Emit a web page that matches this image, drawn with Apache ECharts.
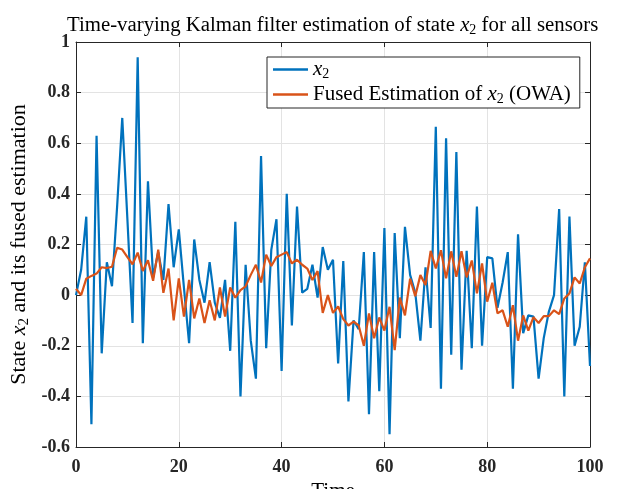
<!DOCTYPE html>
<html>
<head>
<meta charset="utf-8">
<script src="https://cdn.jsdelivr.net/npm/echarts@6/dist/echarts.min.js"></script>
<style>
	html, body { margin: 0; padding: 0; background: #fff; }
	#kfChart { width: 628px; height: 489px; }
</style>
</head>
<body>
<div id="kfChart"></div>
<script>
// time steps 0..100
var timeSteps = [];
for (var t = 0; t <= 100; t++) timeSteps.push(t);

// true state x2
var stateX2 = [
	0.00, 0.10, 0.31, -0.51, 0.63, -0.23, 0.13, 0.035, 0.35, 0.70,
	0.30, -0.11, 0.94, -0.19, 0.45, 0.07, 0.17, 0.06, 0.36, 0.11,
	0.26, 0.03, -0.19, 0.22, 0.06, -0.03, 0.13, -0.03, -0.09, 0.06,
	-0.22, 0.29, -0.40, 0.12, -0.18, -0.33, 0.55, -0.21, 0.18, 0.30,
	-0.30, 0.40, -0.12, 0.35, 0.01, 0.025, 0.12, -0.01, 0.19, 0.10,
	0.14, -0.27, 0.135, -0.42, -0.10, -0.135, 0.17, -0.47, 0.17, -0.38,
	0.265, -0.55, 0.245, -0.17, 0.27, 0.08, 0.01, -0.18, 0.11, -0.13,
	0.665, -0.37, 0.62, -0.235, 0.565, -0.295, 0.175, -0.21, 0.35, -0.20,
	0.15, 0.145, -0.05, 0.05, 0.17, -0.37, 0.24, -0.15, -0.08, -0.085,
	-0.33, -0.17, -0.065, 0.00, 0.34, -0.40, 0.31, -0.20, -0.125, 0.13,
	-0.28
];

// fused estimate (OWA)
var fusedX2 = [
	0.025, 0.00, 0.065, 0.076, 0.085, 0.11, 0.107, 0.112, 0.187, 0.18,
	0.15, 0.122, 0.168, 0.095, 0.138, 0.057, 0.18, 0.009, 0.105, -0.10,
	0.066, -0.085, 0.06, -0.092, -0.013, -0.11, -0.02, -0.10, 0.03, -0.085,
	0.03, -0.01, 0.02, 0.035, 0.08, 0.12, 0.05, 0.16, 0.115, 0.15,
	0.16, 0.17, 0.125, 0.14, 0.12, 0.105, 0.06, 0.095, -0.07, 0.00,
	-0.07, -0.045, -0.095, -0.12, -0.105, -0.12, -0.20, -0.072, -0.17, -0.088,
	-0.14, -0.046, -0.217, -0.01, -0.08, 0.065, -0.004, 0.079, 0.04, 0.175,
	0.105, 0.177, 0.066, 0.173, 0.072, 0.173, 0.07, 0.137, 0.007, 0.125,
	-0.026, 0.049, -0.072, -0.06, -0.125, -0.04, -0.18, -0.08, -0.14, -0.087,
	-0.11, -0.083, -0.083, -0.06, -0.075, -0.013, 0.007, 0.07, 0.046, 0.11,
	0.145
];

var xTicks = [0, 20, 40, 60, 80, 100];
var yTicks = [-0.6, -0.4, -0.2, 0, 0.2, 0.4, 0.6, 0.8, 1];

var serif = '"Liberation Serif", "DejaVu Serif", serif';
var axisColor = '#262626';
var gridColor = '#e3e3e3';

function mathRich(size) {
	return {
		t: { fontFamily: serif, fontSize: size, fontWeight: 'normal', color: '#000' },
		i: { fontFamily: serif, fontSize: size, fontWeight: 'normal', fontStyle: 'italic', color: '#000' },
		s: { fontFamily: serif, fontSize: Math.round(size * 0.68), fontWeight: 'normal', color: '#000', padding: [Math.round(size * 0.45), 0, 0, 0] }
	};
}

function pairs(ys) {
	return timeSteps.map(function(x, k) { return [x, ys[k]]; });
}

var myChart = echarts.init(document.getElementById('kfChart'));
var option = {
	animation: false,
	backgroundColor: '#fff',
	title: {
		text: '{t|Time-varying Kalman filter estimation of state }{i|x}{s|2}{t| for all sensors}',
		left: 67,
		top: 14,
		padding: 0,
		textStyle: { fontWeight: 'normal', rich: mathRich(20.8) }
	},
	legend: {
		orient: 'vertical',
		left: 267,
		top: 57,
		padding: [2, 9, 2, 6],
		icon: 'rect',
		itemWidth: 35,
		itemHeight: 2.5,
		itemGap: 3,
		itemTextGap: 4,
		backgroundColor: '#fff',
		borderColor: axisColor,
		borderWidth: 1,
		borderRadius: 0,
		data: ['x2', 'fused'],
		formatter: function(name) {
			if (name === 'x2') return '{i|x}{s|2}';
			return '{t|Fused Estimation of }{i|x}{s|2}{t| (OWA)}';
		},
		textStyle: { rich: mathRich(21) }
	},
	grid: { left: 76, right: 38, top: 42, bottom: 42, outerBoundsMode: 'none', containLabel: false },
	xAxis: [{
		type: 'value',
		min: 0,
		max: 100,
		interval: 20,
		name: 'Time',
		nameLocation: 'middle',
		nameGap: 32,
		nameTextStyle: { fontFamily: serif, fontSize: 21, color: '#000' },
		axisLine: { onZero: false, lineStyle: { color: axisColor, width: 1 } },
		axisTick: { inside: true, length: 5, lineStyle: { color: axisColor } },
		axisLabel: {
			fontFamily: serif, fontSize: 18, fontWeight: 'bold', color: '#262626', margin: 11,
			formatter: function(v) { return xTicks.indexOf(v) >= 0 ? String(v) : ''; }
		},
		splitLine: { show: true, lineStyle: { color: gridColor, width: 1 } }
	}, {
		type: 'value',
		position: 'top',
		min: 0,
		max: 100,
		interval: 20,
		axisLine: { onZero: false, lineStyle: { color: axisColor, width: 1 } },
		axisTick: { inside: true, length: 5, lineStyle: { color: axisColor } },
		axisLabel: { show: false },
		splitLine: { show: false }
	}],
	yAxis: [{
		type: 'value',
		min: -0.6,
		max: 1,
		interval: 0.2,
		name: '{t|State }{i|x}{s|2}{t| and its fused estimation}',
		nameLocation: 'middle',
		nameGap: 44,
		nameMoveOverlap: false,
		nameTextStyle: { rich: mathRich(22) },
		axisLine: { show: true, onZero: false, lineStyle: { color: axisColor, width: 1 } },
		axisTick: { show: true, inside: true, length: 5, lineStyle: { color: axisColor } },
		axisLabel: {
			fontFamily: serif, fontSize: 18, fontWeight: 'bold', color: '#262626', margin: 6,
			formatter: function(v) {
				var r = Math.round(v * 10) / 10;
				return yTicks.indexOf(r) >= 0 ? String(r) : '';
			}
		},
		splitLine: { show: true, lineStyle: { color: gridColor, width: 1 } }
	}, {
		type: 'value',
		position: 'right',
		min: -0.6,
		max: 1,
		interval: 0.2,
		axisLine: { show: true, onZero: false, lineStyle: { color: axisColor, width: 1 } },
		axisTick: { show: true, inside: true, length: 5, lineStyle: { color: axisColor } },
		axisLabel: { show: false },
		splitLine: { show: false }
	}],
	series: [{
		name: 'x2',
		type: 'line',
		data: pairs(stateX2),
		symbol: 'none',
		lineStyle: { color: '#0072BD', width: 2.2 },
		itemStyle: { color: '#0072BD' },
		z: 2
	}, {
		name: 'fused',
		type: 'line',
		data: pairs(fusedX2),
		symbol: 'none',
		lineStyle: { color: '#D95319', width: 2.2 },
		itemStyle: { color: '#D95319' },
		z: 3
	}]
};
myChart.setOption(option);
</script>
</body>
</html>
